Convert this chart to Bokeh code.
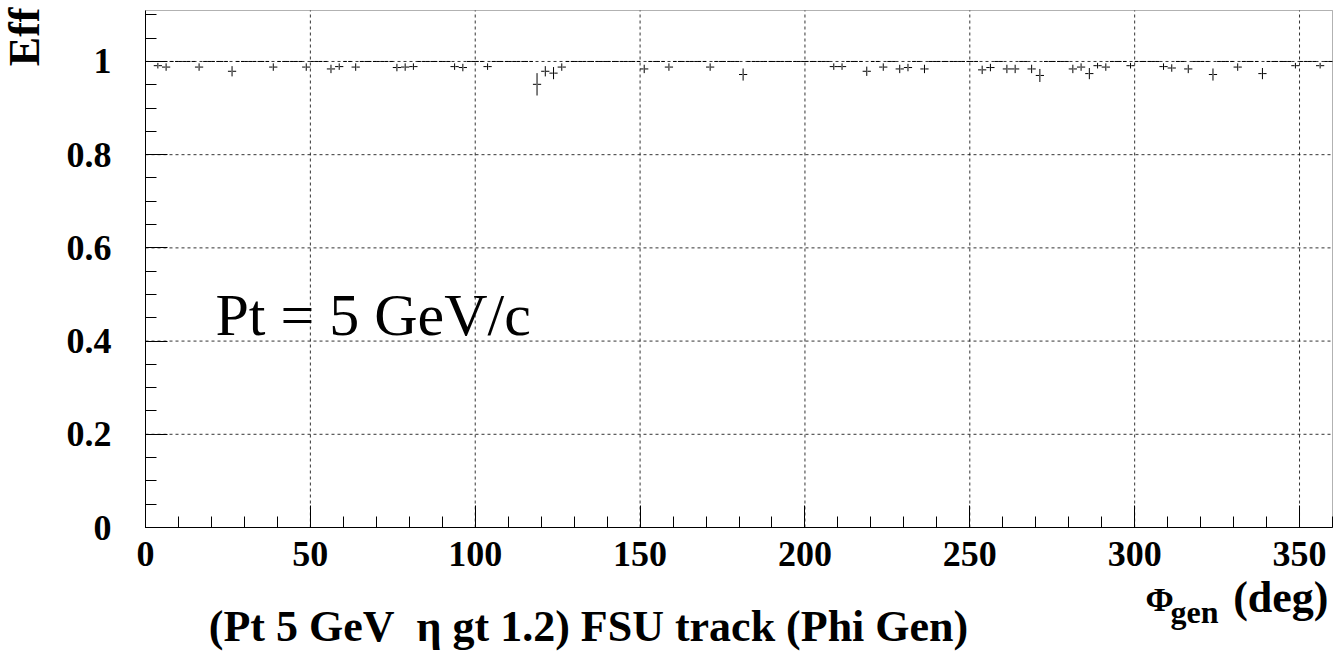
import numpy as np
from bokeh.plotting import figure
from bokeh.models import FixedTicker, Label, CustomJSTickFormatter, Range1d, BoxAnnotation
from bokeh.embed import file_html
from bokeh.resources import INLINE

# ---- data ----
bin_width = 2.5  # histogram bins of 2.5 deg over 0..360
# bins whose efficiency is visibly below 1 (all other bins are at 1 with no error)
phi_dev = [3.75, 6.25, 16.25, 26.25, 38.75, 48.75, 56.25, 58.75, 63.75, 76.25,
           78.75, 81.25, 93.75, 96.25, 103.75, 118.75, 121.25, 123.75, 126.25, 151.25,
           158.75, 171.25, 181.25, 208.75, 211.25, 218.75, 223.75, 228.75, 231.25, 236.25,
           253.75, 256.25, 261.25, 263.75, 268.75, 271.25, 281.25, 283.75, 286.25, 288.75,
           291.25, 298.75, 308.75, 311.25, 316.25, 323.75, 331.25, 338.75, 348.75, 356.25]
eff_dev = [0.991, 0.988, 0.988, 0.979, 0.988, 0.988, 0.984, 0.989, 0.988, 0.987,
           0.988, 0.989, 0.989, 0.987, 0.989, 0.951, 0.979, 0.975, 0.988, 0.984,
           0.988, 0.988, 0.972, 0.989, 0.989, 0.979, 0.988, 0.984, 0.987, 0.984,
           0.982, 0.987, 0.984, 0.984, 0.984, 0.970, 0.984, 0.988, 0.974, 0.991,
           0.988, 0.991, 0.989, 0.986, 0.984, 0.972, 0.988, 0.974, 0.991, 0.991]
err_dev = [0.006, 0.008, 0.008, 0.011, 0.008, 0.008, 0.009, 0.007, 0.008, 0.008,
           0.008, 0.007, 0.007, 0.008, 0.007, 0.024, 0.011, 0.013, 0.008, 0.009,
           0.008, 0.008, 0.013, 0.007, 0.007, 0.010, 0.008, 0.009, 0.008, 0.009,
           0.009, 0.008, 0.009, 0.009, 0.009, 0.014, 0.009, 0.008, 0.012, 0.006,
           0.008, 0.006, 0.007, 0.008, 0.009, 0.013, 0.008, 0.012, 0.006, 0.006]

x_major = [0, 50, 100, 150, 200, 250, 300, 350]
x_minor = list(range(0, 361, 10))
y_major = [0, 0.2, 0.4, 0.6, 0.8, 1.0]
y_minor = [round(0.05 * i, 2) for i in range(0, 23)]
x_lo, x_hi = 0.0, 360.0
y_lo, y_hi = 0.0, 1.1094

title_text = "(Pt 5 GeV\u00a0 \u03b7 gt 1.2) FSU track (Phi Gen)"
ylab_text = "Eff"
xlab_main = "\u03a6"
xlab_sub = "gen"
xlab_unit = "(deg)"
note_text = "Pt = 5 GeV/c"

# ---- build full histogram ----
centers = np.arange(bin_width / 2, 360, bin_width)
eff = np.ones_like(centers)
err = np.zeros_like(centers)
for c, e, s in zip(phi_dev, eff_dev, err_dev):
    i = int(round((c - bin_width / 2) / bin_width))
    eff[i] = e
    err[i] = s

gap = 0.22
FONT = "Liberation Serif"

# ---- page geometry: the plot box occupies page x 145..1332, y 10..527 ----
W, H = 1343, 654
BOX_L, BOX_R, BOX_T, BOX_B = 145, 1332, 10, 527
sx = (BOX_R - BOX_L) / (x_hi - x_lo)
sy = (BOX_B - BOX_T) / (y_hi - y_lo)
def dx(px):
    return x_lo + (px - BOX_L) / sx
def dy(py):
    return y_lo + (BOX_B - py) / sy

p = figure(width=W, height=H,
           x_range=Range1d(dx(0), dx(W)), y_range=Range1d(dy(H), dy(0)),
           output_backend="svg", toolbar_location=None,
           min_border=0, min_border_left=0, min_border_right=0,
           min_border_top=0, min_border_bottom=0)
p.background_fill_color = "white"
p.border_fill_color = "white"
p.outline_line_color = None
p.grid.visible = False

# grid (dotted), limited to the plot box
gx = [v for v in x_major if v > x_lo]
p.segment(x0=gx, x1=gx, y0=[y_lo] * len(gx), y1=[y_hi] * len(gx),
          line_color="black", line_dash="3 3", line_width=1, line_alpha=0.8)
gy = [v for v in y_major if v > y_lo]
p.segment(x0=[x_lo] * len(gy), x1=[x_hi] * len(gy), y0=gy, y1=gy,
          line_color="black", line_dash="3 3", line_width=1, line_alpha=0.8)

# histogram with error bars
p.segment(x0=centers - bin_width / 2, x1=centers - gap, y0=eff, y1=eff,
          line_color="black", line_width=1)
p.segment(x0=centers + gap, x1=centers + bin_width / 2, y0=eff, y1=eff,
          line_color="black", line_width=1)
m = err > 0
p.segment(x0=centers[m], x1=centers[m], y0=eff[m] - err[m], y1=eff[m] + err[m],
          line_color="black", line_width=1)

# frame box
p.add_layout(BoxAnnotation(left=x_lo, right=x_hi, bottom=y_lo, top=y_hi,
                           fill_color=None, line_color="black", line_width=1))

# axes (fixed inside the canvas)
xa, ya = p.xaxis[0], p.yaxis[0]
xa.fixed_location = y_lo
ya.fixed_location = x_lo
xa.bounds = (x_lo, x_hi)
ya.bounds = (y_lo, y_hi)
for ax in (xa, ya):
    ax.major_tick_in = 22
    ax.major_tick_out = 0
    ax.minor_tick_in = 11
    ax.minor_tick_out = 0
    ax.axis_line_color = "black"
    ax.major_tick_line_color = "black"
    ax.minor_tick_line_color = "black"
    ax.major_label_text_font = FONT
    ax.major_label_text_font_style = "bold"
    ax.major_label_text_font_size = "36px"
    ax.major_label_text_color = "black"
xa.ticker = FixedTicker(ticks=x_major, minor_ticks=x_minor)
ya.ticker = FixedTicker(ticks=y_major, minor_ticks=y_minor)
ya.formatter = CustomJSTickFormatter(code="return (Math.round(tick*10)/10).toString();")
xa.major_label_standoff = 14
ya.major_label_standoff = 34

def lab(**kw):
    kw.setdefault("text_font", FONT)
    kw.setdefault("text_font_style", "bold")
    kw.setdefault("text_color", "black")
    kw.setdefault("text_baseline", "alphabetic")
    p.add_layout(Label(**kw))

lab(x=21.2, y=0.457, text=note_text, text_align="left",
    text_font_size="60px", text_font_style="normal")
lab(x=dx(24), y=dy(7), text=ylab_text, angle=np.pi / 2, text_align="right",
    text_font_size="44px")
lab(x=dx(588), y=dy(626), text=title_text, text_align="center", text_font_size="44px")
lab(x=dx(1145), y=dy(599), text=xlab_main, text_align="left", text_font_size="34px")
lab(x=dx(1170), y=dy(611), text=xlab_sub, text_align="left", text_font_size="32px")
lab(x=dx(1328), y=dy(597), text=xlab_unit, text_align="right", text_font_size="44px")

open("out.html", "w").write(file_html(p, INLINE))
